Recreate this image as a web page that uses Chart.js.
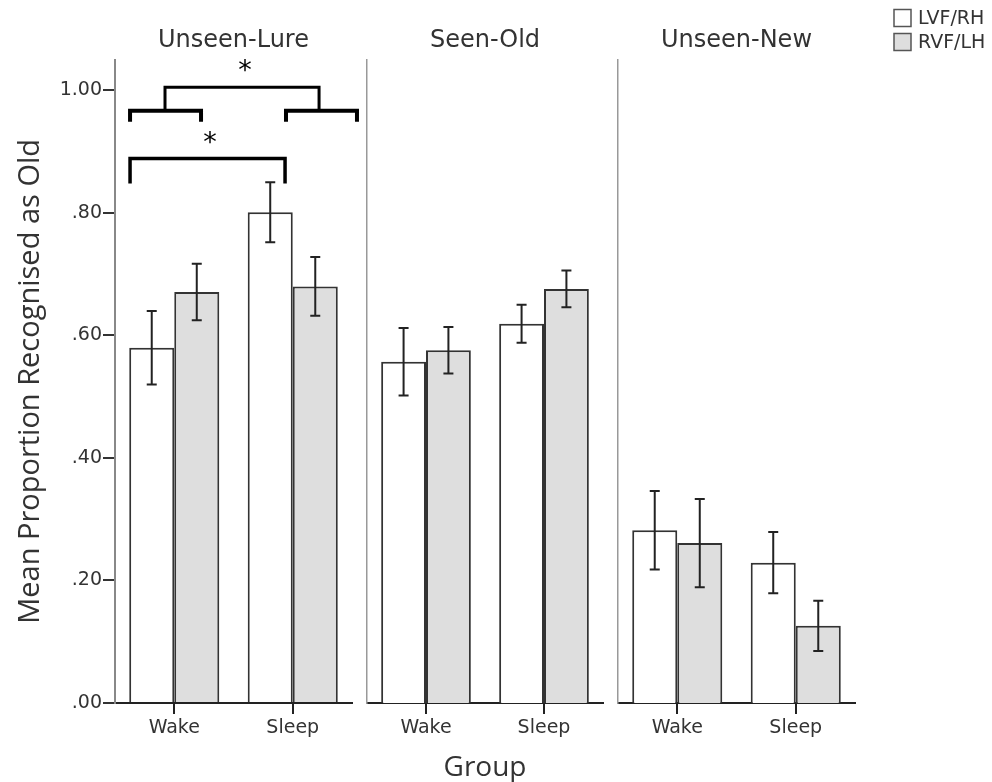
<!DOCTYPE html>
<html>
<head>
<meta charset="utf-8">
<script src="https://cdn.jsdelivr.net/npm/chart.js@4.4.0/dist/chart.umd.min.js"></script>
<style>
  body { margin: 0; background: #fff; }
  .wrap { position: relative; width: 992px; height: 782px; }
  canvas { position: absolute; left: 0; top: 0; }
</style>
</head>
<body>
<div class="wrap">
  <canvas id="c1" width="992" height="782"></canvas>
  <canvas id="c2" width="992" height="782"></canvas>
  <canvas id="c3" width="992" height="782"></canvas>
</div>
<script>
const groups = ['Wake', 'Sleep'];
const panels = ['Unseen-Lure', 'Seen-Old', 'Unseen-New'];
const series = ['LVF/RH', 'RVF/LH'];
const yTickLabels = ['.00', '.20', '.40', '.60', '.80', '1.00'];

// means (Wake, Sleep)
const lureLVF = [0.580, 0.801];
const lureRVF = [0.671, 0.680];
const oldLVF = [0.557, 0.619];
const oldRVF = [0.576, 0.676];
const newLVF = [0.282, 0.229];
const newRVF = [0.261, 0.126];

// error bar half widths
const lureLVFErr = [0.060, 0.049];
const lureRVFErr = [0.046, 0.048];
const oldLVFErr = [0.055, 0.031];
const oldRVFErr = [0.038, 0.030];
const newLVFErr = [0.064, 0.050];
const newRVFErr = [0.072, 0.041];

// significance brackets in Unseen-Lure (x in category units, y in data units)
const brackets = [
  { from: -0.373, to: 0.226, y: 0.967, drop: 0.949, w: 4 },
  { from: 0.943, to: 1.542, y: 0.967, drop: 0.949, w: 4 },
  { from: -0.078, to: 1.222, y: 1.005, drop: 0.967, w: 3 },
  { from: -0.373, to: 0.935, y: 0.889, drop: 0.848, w: 3.5 }
];
const stars = [
  { x: 0.597, y: 1.044 },
  { x: 0.302, y: 0.927 }
];

const WHITE = '#ffffff';
const GREY = '#dedede';
const TEXT = '#333333';

Chart.defaults.font.family = '"DejaVu Sans", Verdana, sans-serif';
Chart.defaults.color = TEXT;

function errorBarPlugin(errs) {
  return {
    id: 'errorBars',
    afterDatasetsDraw(chart) {
      const ctx = chart.ctx;
      const y = chart.scales.y;
      ctx.save();
      ctx.strokeStyle = '#222';
      ctx.lineWidth = 2;
      chart.data.datasets.forEach((ds, i) => {
        chart.getDatasetMeta(i).data.forEach((bar, j) => {
          const hi = y.getPixelForValue(ds.data[j] + errs[i][j]);
          const lo = y.getPixelForValue(ds.data[j] - errs[i][j]);
          ctx.beginPath();
          ctx.moveTo(bar.x, hi); ctx.lineTo(bar.x, lo);
          ctx.moveTo(bar.x - 5, hi); ctx.lineTo(bar.x + 5, hi);
          ctx.moveTo(bar.x - 5, lo); ctx.lineTo(bar.x + 5, lo);
          ctx.stroke();
        });
      });
      ctx.restore();
    }
  };
}

const bracketPlugin = {
  id: 'brackets',
  afterDraw(chart) {
    const ctx = chart.ctx;
    const x = chart.scales.x, y = chart.scales.y;
    ctx.save();
    ctx.strokeStyle = '#000';
    ctx.lineJoin = 'miter';
    brackets.forEach(b => {
      const x1 = x.getPixelForValue(b.from), x2 = x.getPixelForValue(b.to);
      const yt = y.getPixelForValue(b.y), yd = y.getPixelForValue(b.drop);
      ctx.lineWidth = b.w;
      ctx.beginPath();
      ctx.moveTo(x1, yd); ctx.lineTo(x1, yt); ctx.lineTo(x2, yt); ctx.lineTo(x2, yd);
      ctx.stroke();
    });
    ctx.fillStyle = '#000';
    ctx.font = '27px "DejaVu Sans"';
    ctx.textAlign = 'center';
    ctx.textBaseline = 'alphabetic';
    stars.forEach(s => {
      ctx.fillText('*', x.getPixelForValue(s.x), y.getPixelForValue(s.y) + 16);
    });
    ctx.restore();
  }
};

const legendPlugin = {
  id: 'sideLegend',
  afterDraw(chart) {
    const ctx = chart.ctx;
    const left = chart.chartArea.right + 39;
    ctx.save();
    ctx.font = '19px "DejaVu Sans"';
    ctx.textBaseline = 'middle';
    chart.data.datasets.forEach((ds, i) => {
      const cy = 18 + i * 24;
      ctx.fillStyle = ds.backgroundColor;
      ctx.fillRect(left, cy - 8.5, 17, 17);
      ctx.strokeStyle = '#555';
      ctx.lineWidth = 1.5;
      ctx.strokeRect(left, cy - 8.5, 17, 17);
      ctx.fillStyle = TEXT;
      ctx.fillText(ds.label, left + 24, cy + 1);
    });
    ctx.restore();
  }
};

function makePanel(id, idx, lvf, rvf, errs, pad, extraPlugins) {
  const first = idx === 0;
  return new Chart(document.getElementById(id), {
    type: 'bar',
    data: {
      labels: groups,
      datasets: [
        { label: series[0], data: lvf, backgroundColor: WHITE, borderColor: '#333', borderWidth: 2 },
        { label: series[1], data: rvf, backgroundColor: GREY, borderColor: '#333', borderWidth: 2 }
      ]
    },
    options: {
      responsive: false,
      animation: false,
      categoryPercentage: 0.76,
      barPercentage: 1.0,
      layout: { padding: { left: pad[0], right: pad[1], top: 0, bottom: 0 } },
      scales: {
        x: {
          afterFit: s => { s.height = 79; },
          grid: { drawOnChartArea: false, offset: false, tickLength: 11, color: '#222', lineWidth: 2 },
          border: { color: '#222', width: 2 },
          ticks: { font: { size: 19 }, color: TEXT, padding: 3 },
          title: {
            display: idx === 1,
            text: 'Group',
            font: { family: '"Open Sans", sans-serif', size: 28, lineHeight: 1 },
            color: TEXT,
            padding: { top: 0, bottom: 0 }
          }
        },
        y: {
          min: 0,
          max: 1.05,
          afterFit: s => { s.width = first ? 115 : 0; },
          grid: first
            ? { drawOnChartArea: false, tickLength: 12, color: '#333', lineWidth: 2 }
            : { display: false },
          border: { color: first ? '#888' : '#999', width: first ? 2 : 1.5 },
          ticks: {
            display: first,
            stepSize: 0.2,
            includeBounds: false,
            padding: 1,
            font: { size: 19 },
            color: TEXT,
            callback: (v, i) => yTickLabels[i]
          },
          title: {
            display: first,
            text: 'Mean Proportion Recognised as Old',
            font: { family: '"Open Sans", sans-serif', size: 29, lineHeight: 1 },
            color: TEXT,
            padding: { top: 16, bottom: 0 }
          }
        }
      },
      plugins: {
        legend: { display: false },
        tooltip: { enabled: false },
        title: {
          display: true,
          text: panels[idx],
          fullSize: false,
          align: 'center',
          color: TEXT,
          font: { size: 24, weight: 'normal' },
          padding: { top: 26, bottom: 5 }
        }
      }
    },
    plugins: [errorBarPlugin(errs)].concat(extraPlugins)
  });
}

makePanel('c1', 0, lureLVF, lureRVF, [lureLVFErr, lureRVFErr], [0, 640], [bracketPlugin]);
makePanel('c2', 1, oldLVF, oldRVF, [oldLVFErr, oldRVFErr], [367, 389], []);
makePanel('c3', 2, newLVF, newRVF, [newLVFErr, newRVFErr], [618, 137], [legendPlugin]);
</script>
</body>
</html>
